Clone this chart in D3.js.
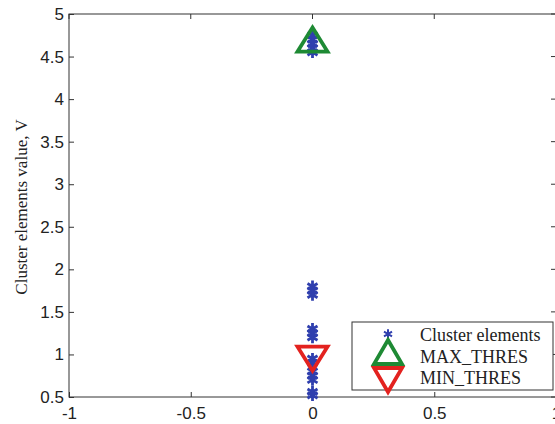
<!DOCTYPE html>
<html>
<head>
<meta charset="utf-8">
<script src="https://cdnjs.cloudflare.com/ajax/libs/d3/7.8.5/d3.min.js"></script>
<style>
  body { margin: 0; background: #fff; }
  svg { display: block; }
</style>
</head>
<body>
<div id="chart"></div>
<script>
// values
const clusterX = [0, 0, 0, 0, 0, 0, 0, 0, 0, 0, 0, 0, 0, 0, 0, 0, 0, 0];
const clusterY = [0.52, 0.56, 0.7, 0.75, 0.8, 0.9, 0.95, 1.2, 1.25, 1.3, 1.7, 1.75, 1.8, 4.6, 4.65, 4.7, 4.75, 4.55];
const maxThres = [{x: 0, y: 4.7}];
const minThres = [{x: 0, y: 0.95}];
const xTicks = [-1, -0.5, 0, 0.5, 1];
const yTicks = [0.5, 1, 1.5, 2, 2.5, 3, 3.5, 4, 4.5, 5];
const legendLabels = ['Cluster elements', 'MAX_THRES', 'MIN_THRES'];

const width = 555, height = 424;
const margin = {top: 14, right: -1, bottom: 27, left: 69};

const svg = d3.select('#chart').append('svg')
  .attr('width', width)
  .attr('height', height);

const x = d3.scaleLinear()
  .domain([-1, 1])
  .range([margin.left, width - margin.right]);

const y = d3.scaleLinear()
  .domain([0.5, 5])
  .range([height - margin.bottom, margin.top]);

const axisColor = '#333';
const tickFont = '17px "Liberation Sans", Arial, sans-serif';
const serifFont = '18px "Liberation Serif", "Times New Roman", serif';

// frame
svg.append('rect')
  .attr('x', x(-1)).attr('y', y(5))
  .attr('width', x(1) - x(-1)).attr('height', y(0.5) - y(5))
  .attr('fill', 'none').attr('stroke', axisColor).attr('stroke-width', 1);

// bottom axis, ticks pointing in
const xAxis = svg.append('g')
  .attr('transform', 'translate(0,' + y(0.5) + ')')
  .call(d3.axisBottom(x).tickValues(xTicks).tickSizeInner(-5).tickSizeOuter(0).tickPadding(10)
    .tickFormat(d => d));
xAxis.select('.domain').remove();
xAxis.selectAll('line').attr('stroke', axisColor);
xAxis.selectAll('text').style('font', tickFont).attr('fill', '#222');

// left axis
const yAxis = svg.append('g')
  .attr('transform', 'translate(' + x(-1) + ',0)')
  .call(d3.axisLeft(y).tickValues(yTicks).tickSizeInner(-5).tickSizeOuter(0).tickPadding(5)
    .tickFormat(d => d));
yAxis.select('.domain').remove();
yAxis.selectAll('line').attr('stroke', axisColor);
yAxis.selectAll('text').style('font', tickFont).attr('fill', '#222');

// mirrored ticks on top and right
svg.append('g').selectAll('line')
  .data(xTicks)
  .join('line')
  .attr('x1', d => x(d)).attr('x2', d => x(d))
  .attr('y1', y(5)).attr('y2', y(5) + 5)
  .attr('stroke', axisColor);

svg.append('g').selectAll('line')
  .data(yTicks)
  .join('line')
  .attr('x1', x(1)).attr('x2', x(1) - 5)
  .attr('y1', d => y(d)).attr('y2', d => y(d))
  .attr('stroke', axisColor);

// y label
svg.append('text')
  .attr('transform', 'translate(27,' + 207 + ') rotate(-90)')
  .attr('text-anchor', 'middle')
  .style('font', '17px "Liberation Serif", "Times New Roman", serif')
  .attr('fill', '#222')
  .text('Cluster elements value, V');

const blue = '#2f3fae', green = '#1e8a34', red = '#e3221f';
const star = d3.symbol().type(d3.symbolAsterisk).size(95);
const smallStar = d3.symbol().type(d3.symbolAsterisk).size(60);

// triangles
function triUp(cx, cy, w, h) {
  return 'M' + cx + ',' + (cy - h / 2) + 'L' + (cx + w / 2) + ',' + (cy + h / 2) + 'L' + (cx - w / 2) + ',' + (cy + h / 2) + 'Z';
}
function triDown(cx, cy, w, h) {
  return 'M' + cx + ',' + (cy + h / 2) + 'L' + (cx + w / 2) + ',' + (cy - h / 2) + 'L' + (cx - w / 2) + ',' + (cy - h / 2) + 'Z';
}

// cluster elements
svg.append('g').selectAll('path')
  .data(clusterY.map((v, i) => ({x: clusterX[i], y: v})))
  .join('path')
  .attr('d', star)
  .attr('transform', d => 'translate(' + x(d.x) + ',' + y(d.y) + ')')
  .attr('fill', 'none')
  .attr('stroke', blue)
  .attr('stroke-width', 2.8);

svg.append('g').selectAll('path')
  .data(maxThres)
  .join('path')
  .attr('d', d => triUp(x(d.x), y(d.y), 30, 24))
  .attr('fill', 'none')
  .attr('stroke', green)
  .attr('stroke-width', 3.8);

svg.append('g').selectAll('path')
  .data(minThres)
  .join('path')
  .attr('d', d => triDown(x(d.x), y(d.y), 30, 24))
  .attr('fill', 'none')
  .attr('stroke', red)
  .attr('stroke-width', 3.8);

// legend
const lg = svg.append('g');
lg.append('rect')
  .attr('x', 352).attr('y', 322)
  .attr('width', 201).attr('height', 68)
  .attr('fill', '#fff').attr('stroke', axisColor);

const rowY = [335, 357, 378];
lg.append('path')
  .attr('d', smallStar)
  .attr('transform', 'translate(388,' + (rowY[0] - 1) + ')')
  .attr('fill', 'none').attr('stroke', blue).attr('stroke-width', 2);
lg.append('path')
  .attr('d', triUp(388, 352, 28, 24))
  .attr('fill', 'none').attr('stroke', green).attr('stroke-width', 3.8);
lg.append('path')
  .attr('d', triDown(388, 380, 28, 24))
  .attr('fill', 'none').attr('stroke', red).attr('stroke-width', 3.8);

lg.selectAll('text')
  .data(legendLabels)
  .join('text')
  .attr('x', 420)
  .attr('y', (d, i) => rowY[i] + 6)
  .style('font', serifFont)
  .attr('fill', '#222')
  .text(d => d);
</script>
</body>
</html>
